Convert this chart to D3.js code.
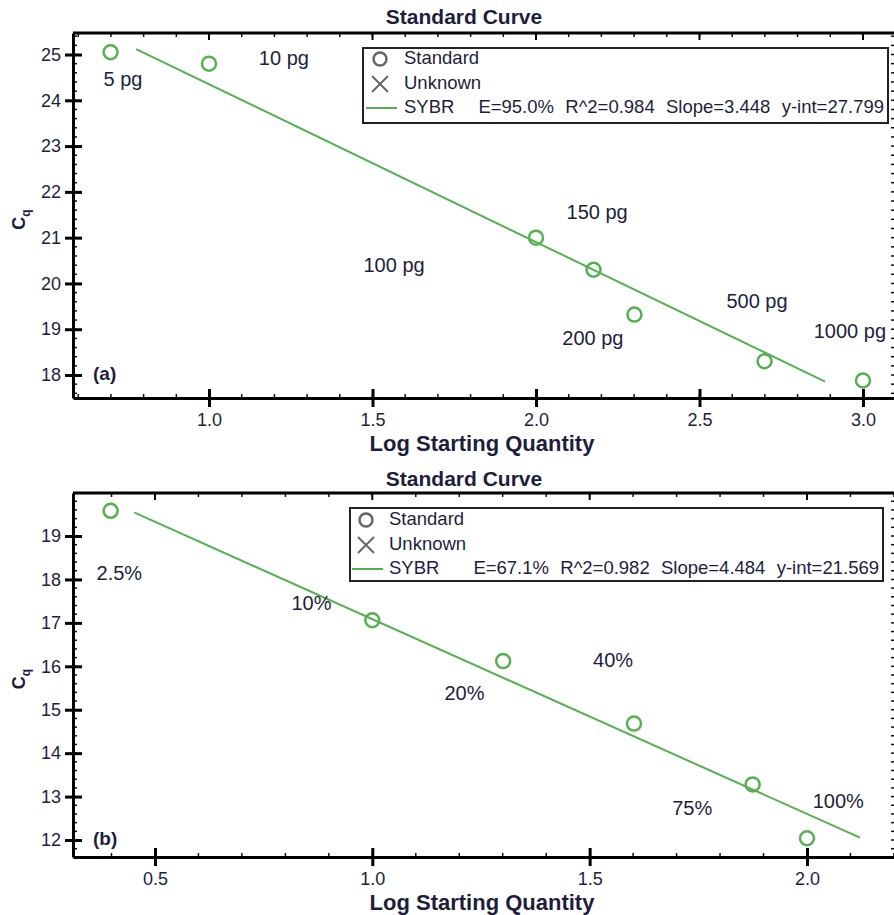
<!DOCTYPE html>
<html>
<head>
<meta charset="utf-8">
<script src="https://cdn.jsdelivr.net/npm/d3@7"></script>
<style>
	body { margin: 0 ; background: white ; }
	svg { display: block ; font-family: "Liberation Sans", Arial, sans-serif ; }
</style>
</head>
<body>
<svg class="figure" width="894" height="915"></svg>
<script>
'use strict' ;

// panel (a): DNA standards
let aLogQty = [ 0.699, 1.0, 2.0, 2.176, 2.301, 2.699, 3.0 ] ;
let aCq = [ 25.05, 24.8, 21.0, 20.3, 19.32, 18.3, 17.88 ] ;
let aNames = [ "5 pg", "10 pg", "100 pg", "150 pg", "200 pg", "500 pg", "1000 pg" ] ;
// where each name label sits, in data coordinates
let aLabelX = [ 0.737, 1.229, 1.566, 2.187, 2.174, 2.676, 2.96 ] ;
let aLabelY = [ 24.42, 24.88, 20.36, 21.53, 18.77, 19.58, 18.92 ] ;
let aFit = [ 3.448, 27.799 ] ; // slope, y-int
let aFitRange = [ 0.777, 2.884 ] ;
let aStats = [ "SYBR", "E=95.0%", "R^2=0.984", "Slope=3.448", "y-int=27.799" ] ;
let aXTicks = [ 1.0, 1.5, 2.0, 2.5, 3.0 ] ;
let aYTicks = [ 18, 19, 20, 21, 22, 23, 24, 25 ] ;

// panel (b): percentage standards
let bLogQty = [ 0.398, 1.0, 1.301, 1.602, 1.875, 2.0 ] ;
let bCq = [ 19.58, 17.06, 16.12, 14.68, 13.28, 12.04 ] ;
let bNames = [ "2.5%", "10%", "20%", "40%", "75%", "100%" ] ;
let bLabelX = [ 0.418, 0.860, 1.212, 1.554, 1.736, 2.072 ] ;
let bLabelY = [ 18.10, 17.41, 15.34, 16.10, 12.69, 12.87 ] ;
let bFit = [ 4.484, 21.569 ] ;
let bFitRange = [ 0.452, 2.122 ] ;
let bStats = [ "SYBR", "E=67.1%", "R^2=0.982", "Slope=4.484", "y-int=21.569" ] ;
let bXTicks = [ 0.5, 1.0, 1.5, 2.0 ] ;
let bYTicks = [ 12, 13, 14, 15, 16, 17, 18, 19 ] ;

let green = "#55b04f" ;
let ink = "#1e1e3c" ;

let panels = [
	{
		tag: "(a)", x: aLogQty, y: aCq, names: aNames, lx: aLabelX, ly: aLabelY,
		fit: aFit, fitRange: aFitRange, stats: aStats, xTicks: aXTicks, yTicks: aYTicks,
		geom: {
			top: 33, bottom: 398, left: 73, right: 896, titleY: 18,
			xDomain: [ 0.584, 3.101 ], yDomain: [ 17.498, 25.47 ],
			legend: { x: 363, y: 48, w: 525, h: 75, marker: 380, text: 404, rows: [ 59, 84, 108 ], statGap: 24 }
		}
	},
	{
		tag: "(b)", x: bLogQty, y: bCq, names: bNames, lx: bLabelX, ly: bLabelY,
		fit: bFit, fitRange: bFitRange, stats: bStats, xTicks: bXTicks, yTicks: bYTicks,
		geom: {
			top: 493, bottom: 857, left: 73, right: 896, titleY: 480,
			xDomain: [ 0.3114, 2.2048 ], yDomain: [ 11.609, 19.99 ],
			legend: { x: 350, y: 508, w: 533, h: 73, marker: 366, text: 389, rows: [ 520, 545, 569 ], statGap: 34 }
		}
	}
] ;

let svg = d3.select( "svg.figure" ) ;

let drawPanel = function( p ) {
	let geom = p.geom ;
	let g = svg.append( "g" ) ;
	let xs = d3.scaleLinear().domain( geom.xDomain ).range( [ geom.left, geom.right ] ) ;
	let ys = d3.scaleLinear().domain( geom.yDomain ).range( [ geom.bottom, geom.top ] ) ;

	// title
	g.append( "text" )
		.attr( "x", 464 )
		.attr( "y", geom.titleY )
		.attr( "text-anchor", "middle" )
		.attr( "dominant-baseline", "middle" )
		.attr( "font-size", "21px" )
		.attr( "font-weight", "bold" )
		.attr( "font-family", "'Liberation Sans Narrow', 'Liberation Sans', Arial" )
		.attr( "fill", ink )
		.text( "Standard Curve" ) ;

	// minor ticks (inside)
	let xMinor = d3.range( Math.ceil( geom.xDomain[0] * 10 ), Math.floor( geom.xDomain[1] * 10 ) + 1 ).map( d => d / 10 ) ;
	let yMinor = d3.range( Math.ceil( geom.yDomain[0] * 5 ), Math.floor( geom.yDomain[1] * 5 ) + 1 ).map( d => d / 5 ) ;
	let minor = g.append( "g" ).attr( "stroke", "#111" ).attr( "stroke-width", 1.5 ) ;
	xMinor.forEach( d => {
		minor.append( "line" ).attr( "x1", xs(d) ).attr( "x2", xs(d) ).attr( "y1", geom.bottom ).attr( "y2", geom.bottom - 4 ) ;
		minor.append( "line" ).attr( "x1", xs(d) ).attr( "x2", xs(d) ).attr( "y1", geom.top ).attr( "y2", geom.top + 4 ) ;
	} ) ;
	yMinor.forEach( d => {
		minor.append( "line" ).attr( "x1", geom.left ).attr( "x2", geom.left + 4 ).attr( "y1", ys(d) ).attr( "y2", ys(d) ) ;
		minor.append( "line" ).attr( "x1", geom.right ).attr( "x2", geom.right - 5 ).attr( "y1", ys(d) ).attr( "y2", ys(d) ) ;
	} ) ;

	// axes
	let xAxis = g.append( "g" )
		.attr( "transform", "translate(0," + geom.bottom + ")" )
		.call( d3.axisBottom( xs ).tickValues( p.xTicks ).tickFormat( d3.format( ".1f" ) ).tickSizeOuter( 0 ).tickSizeInner( 9 ).tickPadding( 6 ) ) ;
	let yAxis = g.append( "g" )
		.attr( "transform", "translate(" + geom.left + ",0)" )
		.call( d3.axisLeft( ys ).tickValues( p.yTicks ).tickFormat( d3.format( "d" ) ).tickSizeOuter( 0 ).tickSizeInner( 8 ).tickPadding( 4 ) ) ;
	[ xAxis, yAxis ].forEach( ax => {
		ax.select( ".domain" ).attr( "stroke", "#000" ).attr( "stroke-width", 3 ) ;
		ax.selectAll( ".tick line" ).attr( "stroke", "#000" ).attr( "stroke-width", 3 ) ;
		ax.selectAll( ".tick text" ).attr( "font-size", "18px" ).attr( "fill", ink ) ;
	} ) ;
	// major ticks cross the axis line
	xAxis.selectAll( ".tick line" ).attr( "y1", -9 ) ;
	yAxis.selectAll( ".tick line" ).attr( "x1", 9 ) ;
	xAxis.selectAll( ".tick text" ).attr( "font-family", "'Liberation Sans Narrow', 'Liberation Sans', Arial" ) ;

	// top frame line and top major ticks
	g.append( "line" )
		.attr( "x1", geom.left ).attr( "x2", geom.right )
		.attr( "y1", geom.top ).attr( "y2", geom.top )
		.attr( "stroke", "#000" ).attr( "stroke-width", 3 ) ;
	p.xTicks.forEach( d => {
		g.append( "line" ).attr( "x1", xs(d) ).attr( "x2", xs(d) ).attr( "y1", geom.top ).attr( "y2", geom.top + 7 )
			.attr( "stroke", "#000" ).attr( "stroke-width", 2 ) ;
	} ) ;

	// axis titles
	g.append( "text" )
		.attr( "x", 482 )
		.attr( "y", geom.bottom + 53 )
		.attr( "text-anchor", "middle" )
		.attr( "font-size", "22px" )
		.attr( "font-weight", "bold" )
		.attr( "font-family", "'Liberation Sans Narrow', 'Liberation Sans', Arial" )
		.attr( "fill", ink )
		.text( "Log Starting Quantity" ) ;
	let cq = g.append( "text" )
		.attr( "transform", "translate(25," + ( ( geom.top + geom.bottom ) / 2 + 4 ) + ") rotate(-90)" )
		.attr( "text-anchor", "middle" )
		.attr( "font-size", "18px" )
		.attr( "font-weight", "bold" )
		.attr( "fill", ink ) ;
	cq.append( "tspan" ).text( "C" ) ;
	cq.append( "tspan" ).attr( "font-size", "12px" ).attr( "dy", 5 ).text( "q" ) ;

	// panel tag
	g.append( "text" )
		.attr( "x", geom.left + 20 )
		.attr( "y", ys( p.yTicks[0] ) )
		.attr( "dominant-baseline", "middle" )
		.attr( "font-size", "19px" )
		.attr( "font-weight", "bold" )
		.attr( "font-family", "'Liberation Sans Narrow', 'Liberation Sans', Arial" )
		.attr( "fill", ink )
		.text( p.tag ) ;

	// regression line
	g.append( "line" )
		.attr( "x1", xs( p.fitRange[0] ) )
		.attr( "y1", ys( p.fit[1] - p.fit[0] * p.fitRange[0] ) )
		.attr( "x2", xs( p.fitRange[1] ) )
		.attr( "y2", ys( p.fit[1] - p.fit[0] * p.fitRange[1] ) )
		.attr( "stroke", green )
		.attr( "stroke-width", 2 ) ;

	// standards
	g.selectAll( "circle.std" )
		.data( p.x )
		.enter()
		.append( "circle" )
		.attr( "class", "std" )
		.attr( "cx", d => xs(d) )
		.attr( "cy", ( d, i ) => ys( p.y[i] ) )
		.attr( "r", 7 )
		.attr( "fill", "none" )
		.attr( "stroke", green )
		.attr( "stroke-width", 2.5 ) ;

	// point names
	g.selectAll( "text.name" )
		.data( p.names )
		.enter()
		.append( "text" )
		.attr( "class", "name" )
		.attr( "x", ( d, i ) => xs( p.lx[i] ) )
		.attr( "y", ( d, i ) => ys( p.ly[i] ) )
		.attr( "text-anchor", "middle" )
		.attr( "dominant-baseline", "middle" )
		.attr( "font-size", "20px" )
		.attr( "fill", ink )
		.text( d => d ) ;

	// legend
	let lg = geom.legend ;
	let legend = g.append( "g" ) ;
	legend.append( "rect" )
		.attr( "x", lg.x ).attr( "y", lg.y ).attr( "width", lg.w ).attr( "height", lg.h )
		.attr( "fill", "white" ).attr( "stroke", "#222" ).attr( "stroke-width", 2 ) ;
	legend.append( "circle" )
		.attr( "cx", lg.marker ).attr( "cy", lg.rows[0] ).attr( "r", 6.5 )
		.attr( "fill", "none" ).attr( "stroke", "#666" ).attr( "stroke-width", 2.5 ) ;
	legend.append( "path" )
		.attr( "d", "M" + ( lg.marker - 8 ) + "," + ( lg.rows[1] - 8 ) + "l16,16M" + ( lg.marker + 8 ) + "," + ( lg.rows[1] - 8 ) + "l-16,16" )
		.attr( "stroke", "#666" ).attr( "stroke-width", 2 ) ;
	legend.append( "line" )
		.attr( "x1", lg.marker - 14 ).attr( "x2", lg.marker + 17 )
		.attr( "y1", lg.rows[2] ).attr( "y2", lg.rows[2] )
		.attr( "stroke", green ).attr( "stroke-width", 2 ) ;
	[ "Standard", "Unknown" ].forEach( ( t, i ) => {
		legend.append( "text" )
			.attr( "x", lg.text ).attr( "y", lg.rows[i] )
			.attr( "dominant-baseline", "middle" )
			.attr( "font-size", "18.5px" ).attr( "fill", ink )
			.text( t ) ;
	} ) ;
	// stats row: "SYBR", a wider gap, then the rest spread evenly to the box edge
	let stats = p.stats.map( t => legend.append( "text" )
		.attr( "y", lg.rows[2] )
		.attr( "dominant-baseline", "middle" )
		.attr( "font-size", "18.5px" ).attr( "fill", ink )
		.text( t ) ) ;
	let widths = stats.map( s => s.node().getComputedTextLength() ) ;
	let start = lg.text + widths[0] + lg.statGap ;
	let end = lg.x + lg.w - 4 ;
	let gap = ( end - start - d3.sum( widths.slice( 1 ) ) ) / ( widths.length - 2 ) ;
	stats[0].attr( "x", lg.text ) ;
	let cursor = start ;
	for( let i = 1; i < stats.length; ++i ) {
		stats[i].attr( "x", cursor ) ;
		cursor += widths[i] + gap ;
	}
} ;

panels.forEach( drawPanel ) ;
</script>
</body>
</html>
